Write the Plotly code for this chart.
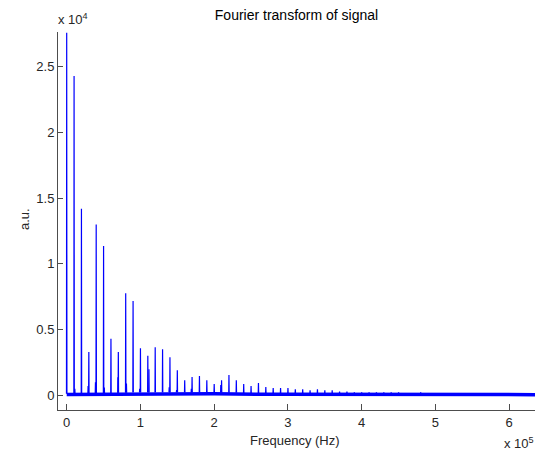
import numpy as np
import plotly.graph_objects as go

# Harmonic lines of the spectrum: frequency (Hz) and amplitude (a.u.)
harmonic_freq = [0, 1e4, 2e4, 3e4, 4e4, 5e4, 6e4, 7e4, 8e4, 9e4,
                 10e4, 11e4, 12e4, 13e4, 14e4, 15e4, 16e4, 17e4, 18e4, 19e4,
                 20e4, 21e4, 22e4, 23e4, 24e4, 25e4, 26e4, 27e4, 28e4, 29e4,
                 30e4, 31e4, 32e4, 33e4, 34e4, 35e4, 36e4, 37e4, 38e4, 39e4,
                 40e4, 41e4, 42e4, 43e4, 44e4, 45e4, 48e4]
harmonic_amp = [27600, 24300, 14200, 3300, 13000, 11370, 4300, 3300, 7770, 7180,
                3580, 3000, 3650, 3500, 2900, 1900, 1140, 1400, 1470, 1140,
                860, 1140, 1550, 1140, 860, 700, 940, 630, 560, 560,
                560, 460, 460, 380, 460, 380, 380, 280, 280, 220,
                220, 220, 220, 220, 220, 220, 220]

# Weaker side lines next to some harmonics
side_freq = [1.1e4, 2.9e4, 3.9e4, 5.1e4, 6.95e4, 8.1e4, 9.9e4, 11.15e4,
             13.9e4, 14.9e4, 16.9e4, 20.9e4]
side_amp = [500, 700, 1000, 600, 1370, 900, 500, 1980,
            600, 400, 500, 780]

# Noise floor level between the lines
floor_freq = [0, 5e4, 10e4, 20e4, 28e4, 35e4, 64e4]
floor_amp = [120, 160, 220, 220, 140, 110, 100]

x_ticks = [0, 1e5, 2e5, 3e5, 4e5, 5e5, 6e5]
x_tick_text = ["0", "1", "2", "3", "4", "5", "6"]
y_ticks = [0, 5000, 10000, 15000, 20000, 25000]
y_tick_text = ["0", "0.5", "1", "1.5", "2", "2.5"]

BLUE = "#0000FF"
AXIS = "#4d4d4d"
FONT = "Liberation Sans, Arial, sans-serif"


def spikes(freqs, amps, half_width=300.0):
    """Build a polyline with a narrow triangular spike at each line."""
    xs, ys = [], []
    for f, a in zip(freqs, amps):
        base = float(np.interp(f, floor_freq, floor_amp))
        xs += [f - half_width, f, f + half_width, None]
        ys += [base, a, base, None]
    return xs, ys


fig = go.Figure()

# Dense noise floor drawn as a thick band
fig.add_trace(go.Scatter(
    x=floor_freq, y=[v * 0.5 for v in floor_amp], mode="lines",
    line=dict(color=BLUE, width=3.5), hoverinfo="skip", showlegend=False))

sx, sy = spikes(side_freq, side_amp)
fig.add_trace(go.Scatter(x=sx, y=sy, mode="lines",
                         line=dict(color=BLUE, width=1.2), showlegend=False))

hx, hy = spikes(harmonic_freq, harmonic_amp)
fig.add_trace(go.Scatter(x=hx, y=hy, mode="lines",
                         line=dict(color=BLUE, width=1.2), showlegend=False))

fig.update_layout(
    width=535, height=455,
    margin=dict(l=58, r=0, t=32, b=45),
    paper_bgcolor="white", plot_bgcolor="white",
    font=dict(family=FONT, size=13, color="#262626"),
    showlegend=False,
    title=dict(text="Fourier transform of signal", x=0.5, xref="paper",
               y=1 - 15 / 455, yref="container", yanchor="middle",
               font=dict(family=FONT, size=14, color="#000000")),
)

fig.update_xaxes(
    range=[-0.118e5, 6.35e5], tickvals=x_ticks, ticktext=x_tick_text,
    showgrid=False, zeroline=False, showline=True, linecolor=AXIS, linewidth=1,
    ticks="inside", ticklen=6, tickcolor=AXIS, tickwidth=1,
    tickfont=dict(size=13, color="#262626"), mirror=False,
)
fig.update_yaxes(
    range=[-1120, 27650], tickvals=y_ticks, ticktext=y_tick_text,
    showgrid=False, zeroline=False, showline=True, linecolor=AXIS, linewidth=1,
    ticks="inside", ticklen=5, tickcolor=AXIS, tickwidth=1,
    tickfont=dict(size=13, color="#262626"), mirror=False,
)

annotations = [
    dict(text="a.u.", x=(25 - 58) / 477, y=(410 - 219) / 378, textangle=-90),
    dict(text="Frequency (Hz)", x=(295 - 58) / 477, y=(410 - 440) / 378),
    dict(text="x 10<sup>4</sup>", x=(56 - 58) / 477, y=(410 - 19) / 378,
         xanchor="left"),
    dict(text="x 10<sup>5</sup>", x=(502 - 58) / 477, y=(410 - 443) / 378,
         xanchor="left"),
]
for a in annotations:
    fig.add_annotation(xref="paper", yref="paper", showarrow=False,
                       yanchor="middle", xanchor=a.pop("xanchor", "center"),
                       font=dict(family=FONT, size=13, color="#262626"), **a)

fig.write_html("out.html")
